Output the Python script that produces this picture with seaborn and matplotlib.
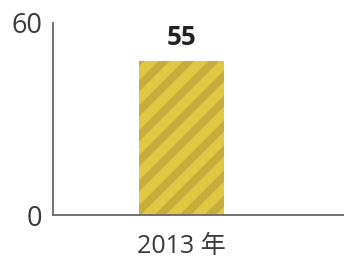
import matplotlib
matplotlib.use("Agg")
import matplotlib.pyplot as plt
import seaborn as sns
import pandas as pd

categories = ["2013 年"]
values = [55]
value_labels = ["55"]
ytick_labels = ["0", "60"]

sns.set_style("white")
plt.rcParams['font.family'] = ['Open Sans', 'Noto Sans CJK SC', 'DejaVu Sans']
plt.rcParams['hatch.linewidth'] = 3.8

df = pd.DataFrame({"cat": categories, "val": values})

fig = plt.figure(figsize=(344/150, 260/150), dpi=150)
ax = fig.add_axes([53/344, 45/260, 291/344, 192/260])

sns.barplot(data=df, x="cat", y="val", ax=ax, color="#E0C845", width=0.6,
            saturation=1, linewidth=0)
for p in ax.patches:
    p.set_hatch("//")
    p.set_edgecolor("#C6AC3B")
    p.set_linewidth(0)

# the reference drew the bar top at ~80% of the axis height
ytop = values[0] / 0.80
ax.set_ylim(0, ytop)
ax.set_xlim(-0.907, 1.147)
ax.set_yticks([0, ytop])
ax.set_yticklabels(ytick_labels)
ax.set_xlabel("")
ax.set_ylabel("")

for p, lab in zip(ax.patches, value_labels):
    ax.annotate(lab, (p.get_x() + p.get_width() / 2, p.get_height()),
                xytext=(0, 5), textcoords="offset points", ha="center",
                va="bottom", fontsize=12.5, fontweight="bold", color="#222222")

for s in ["top", "right"]:
    ax.spines[s].set_visible(False)
for s in ["left", "bottom"]:
    ax.spines[s].set_color("#6b6b6b")
    ax.spines[s].set_linewidth(0.9)

ax.tick_params(axis="y", length=0, pad=5, labelsize=13, labelcolor="#3a3a3a")
ax.tick_params(axis="x", length=0, pad=9, labelsize=12, labelcolor="#3a3a3a")

fig.savefig("out.png", dpi=150, facecolor="white")
